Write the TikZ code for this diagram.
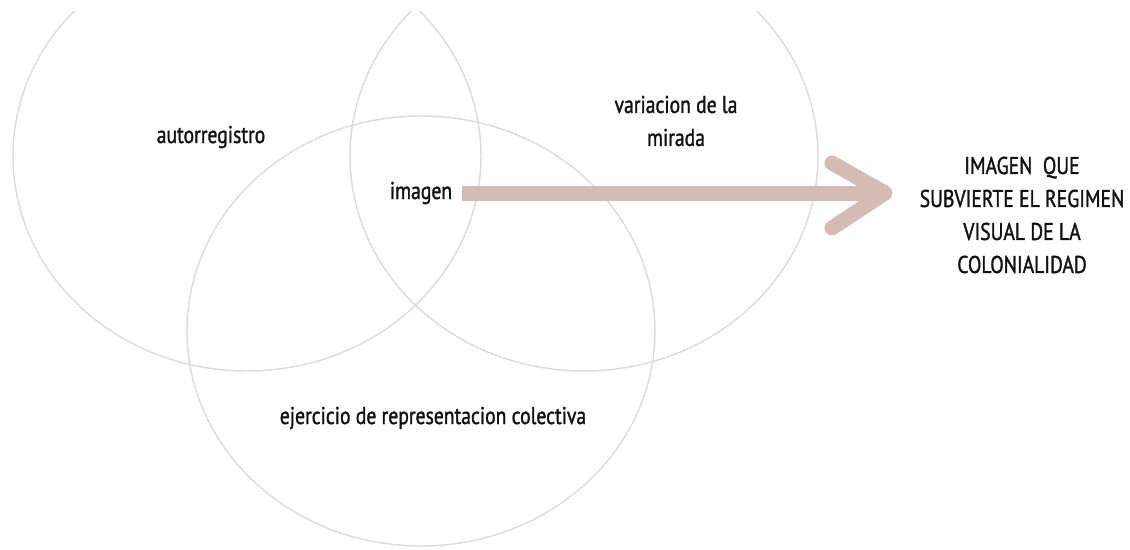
\documentclass[tikz,border=0pt]{standalone}
\usepackage{fontspec}
\setmainfont{PT Sans}[FakeStretch=0.81,FakeBold=1.3]
\definecolor{ring}{HTML}{DCDCDC}
\definecolor{arrowc}{HTML}{D6BAB4}
\definecolor{ink}{HTML}{111111}
\begin{document}
\begin{tikzpicture}[x=0.75pt,y=-0.75pt,
  ring/.style={draw=ring,line width=1.1pt},
  lbl/.style={font=\fontsize{18.2}{24.75}\selectfont, text=ink, inner sep=0pt, align=center},
  shaft/.style={draw=arrowc,line width=11.25pt,line cap=butt},
  barb/.style={draw=arrowc,line width=11.25pt,line cap=round,line join=round}]
\useasboundingbox (0,0) rectangle (1130,549);
\begin{scope}
  \clip (0,12) rectangle (1130,549);
  \draw[ring] (247,156) ellipse [x radius=234, y radius=215];
  \draw[ring] (584,156) ellipse [x radius=234, y radius=215];
  \draw[ring] (421,331) ellipse [x radius=234, y radius=215];
\end{scope}
\node[lbl] (auto) at (211,137) {autorregistro};
\node[lbl] (img) at (421,193) {imagen};
\node[lbl] (mir) at (676,121) {variacion de la\\mirada};
\node[lbl] (ejer) at (433,418) {ejercicio de representacion colectiva};
\node[lbl] (goal) at (1022,215) {IMAGEN\ \ QUE\\SUBVIERTE EL REGIMEN\\VISUAL DE LA\\COLONIALIDAD};
\coordinate (tip) at (885,193);
\draw[shaft] ([xshift=7.5pt]img.east) -- (tip);
\draw[barb] ([shift={(-53,-30)}]tip) -- (tip) -- ([shift={(-53,35)}]tip);
\end{tikzpicture}
\end{document}
